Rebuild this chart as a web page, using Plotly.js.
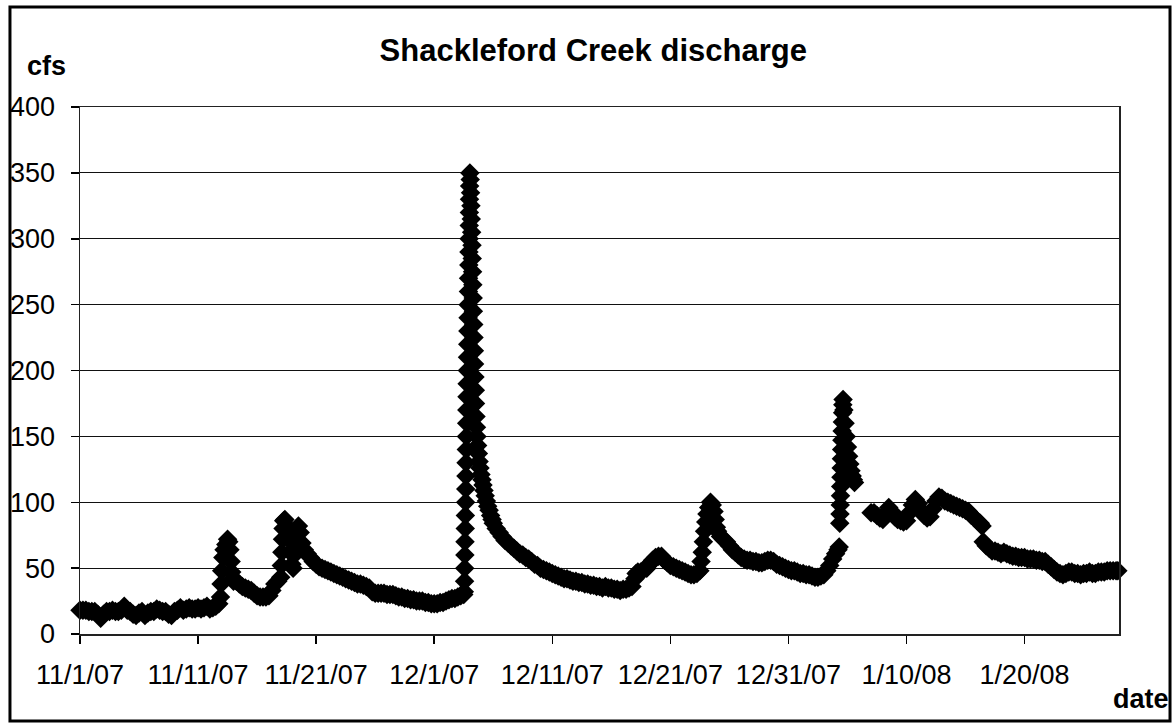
<!DOCTYPE html>
<html>
<head>
<meta charset="utf-8">
<script src="https://cdn.plot.ly/plotly-3.0.1.min.js"></script>
<style>
  html, body { margin: 0; padding: 0; background: #ffffff; }
  #chart { width: 1175px; height: 725px; }
</style>
</head>
<body>
<div id="chart"></div>
<script>
// Start of record: 11/1/07 00:00. Each pair is [days since start, discharge in cfs]
const startDate = Date.UTC(2007, 10, 1);

const baseflowNov = [[0,18],[0.25,18],[0.5,18],[0.75,17],[1,17],[1.25,17],[1.5,15],[1.75,12],[2,15],[2.25,17],[2.5,17],[2.75,18],[3,17],[3.25,17],[3.5,18],[3.75,21],[4,18],[4.25,17],[4.5,15],[4.75,14],[5,16],[5.25,17],[5.5,14],[5.75,16],[6,17],[6.25,17],[6.5,19],[6.75,18],[7,17],[7.25,17],[7.5,15],[7.75,14],[8,17],[8.25,18],[8.5,20],[8.75,18],[9,19],[9.25,20],[9.5,19],[9.75,19],[10,20],[10.25,19],[10.5,20],[10.75,21],[11,19],[11.25,20],[11.5,21],[11.75,23]];

const stormsMidNov = [[11.9,28],[11.95,38],[12,48],[12.1,58],[12.2,64],[12.35,68],[12.5,72],[12.6,70],[12.7,64],[12.8,55],[12.85,47],[12.9,42],[13,40],[13.25,40],[13.5,38],[13.75,36],[14,35],[14.25,34],[14.5,33],[14.75,31],[15,29],[15.25,28],[15.5,28],[15.75,28],[16,29],[16.25,33],[16.5,38],[16.75,40],[17,43],[17.05,52],[17.1,62],[17.15,72],[17.2,80],[17.25,86],[17.35,87],[17.5,82],[17.65,72],[17.8,62],[17.95,53],[18.05,50],[18.15,60],[18.25,70],[18.35,78],[18.5,82],[18.65,77],[18.8,69],[19,64],[19.25,61],[19.5,58],[19.75,55],[20,53],[20.25,51],[20.5,50],[20.75,49],[21,48],[21.25,47],[21.5,46],[21.75,45],[22,44],[22.25,43],[22.5,42],[22.75,41],[23,40],[23.25,39],[23.5,38],[23.75,38],[24,37],[24.25,36],[24.5,35],[24.75,32],[25,31],[25.25,31],[25.5,31],[25.75,31],[26,30],[26.25,30],[26.5,30],[26.75,29],[27,28],[27.25,28],[27.5,27],[27.75,27],[28,26],[28.25,26],[28.5,25],[28.75,25],[29,25],[29.25,24],[29.5,24],[29.75,23],[30,23],[30.25,23],[30.5,24],[30.75,24],[31,25],[31.25,26],[31.5,27],[31.75,27],[32,28],[32.25,29],[32.5,30]];

const peakDec3 = [[32.55,32],[32.57,40],[32.58,50],[32.6,60],[32.61,70],[32.63,80],[32.64,90],[32.66,100],[32.67,110],[32.69,120],[32.7,130],[32.72,140],[32.73,150],[32.75,160],[32.76,170],[32.78,180],[32.79,190],[32.81,200],[32.82,210],[32.84,220],[32.85,230],[32.87,240],[32.88,250],[32.9,260],[32.91,270],[32.93,280],[32.94,290],[32.96,300],[32.97,310],[32.98,320],[32.99,330],[33,340],[33.02,350],[33.05,345],[33.08,335],[33.11,325],[33.14,315],[33.17,305],[33.2,295],[33.22,285],[33.25,275],[33.27,265],[33.3,255],[33.32,245],[33.35,235],[33.37,225],[33.4,215],[33.42,205],[33.45,195],[33.48,185],[33.5,175],[33.54,165],[33.58,157],[33.62,150],[33.68,143],[33.74,137],[33.8,131],[33.88,126],[33.96,121],[34.05,117],[34.13,113],[34.22,109],[34.32,105],[34.42,101],[34.53,97],[34.65,94],[34.78,90],[34.9,87],[35,84],[35.25,80],[35.5,77],[35.75,74],[36,71],[36.25,69],[36.5,67],[36.75,65],[37,63],[37.25,61],[37.5,60],[37.75,58],[38,57],[38.25,55],[38.5,53],[38.75,52],[39,50],[39.25,49],[39.5,48],[39.75,47],[40,46],[40.25,45],[40.5,44],[40.75,43],[41,42],[41.25,42],[41.5,41],[41.75,40],[42,40],[42.25,39],[42.5,39],[42.75,38],[43,38],[43.25,37],[43.5,37],[43.75,36],[44,36],[44.25,35],[44.5,36],[44.75,35],[45,35],[45.25,34],[45.5,34],[45.75,33],[46,34],[46.25,34],[46.5,35]];

const stormsLateDec = [[46.75,36],[47,42],[47.1,46],[47.25,47],[47.5,47],[47.75,49],[48,50],[48.25,53],[48.5,56],[48.75,58],[49,59],[49.25,59],[49.5,56],[49.75,54],[50,52],[50.25,51],[50.5,50],[50.75,49],[51,48],[51.25,47],[51.5,46],[51.75,45],[52,45],[52.25,46],[52.5,48],[52.6,55],[52.7,62],[52.8,70],[52.9,78],[53,85],[53.1,91],[53.25,96],[53.4,100],[53.55,98],[53.7,93],[53.8,87],[53.9,81],[54,78],[54.25,74],[54.5,72],[54.75,70],[55,67],[55.25,64],[55.5,62],[55.75,60],[56,58],[56.25,57],[56.5,56],[56.75,56],[57,55],[57.25,55],[57.5,54],[57.75,54],[58,55],[58.25,56],[58.5,56],[58.75,55],[59,53],[59.25,52],[59.5,51],[59.75,50],[60,49],[60.25,48],[60.5,48],[60.75,47],[61,46],[61.25,46],[61.5,45],[61.75,45],[62,44],[62.25,43],[62.5,43],[62.75,44],[63,45],[63.25,48],[63.5,52],[63.75,57],[64,61],[64.2,64],[64.3,66]];

const peakJan4 = [[64.35,84],[64.37,91],[64.39,98],[64.41,105],[64.43,112],[64.45,119],[64.47,126],[64.49,133],[64.51,140],[64.53,147],[64.55,154],[64.57,161],[64.59,168],[64.61,174],[64.63,178],[64.7,170],[64.8,160],[64.9,150],[65,142],[65.1,135],[65.2,129],[65.3,124],[65.4,120],[65.5,117],[65.6,115]];

const flowMidJan = [[67,92],[67.25,92],[67.5,90],[67.75,88],[68,87],[68.25,91],[68.5,96],[68.75,93],[69,89],[69.25,87],[69.5,86],[69.75,85],[70,86],[70.25,92],[70.5,98],[70.75,102],[71,99],[71.25,94],[71.5,90],[71.75,88],[72,89],[72.25,95],[72.5,101],[72.75,104],[73,103],[73.25,101],[73.5,100],[73.75,99],[74,98],[74.25,97],[74.5,96],[74.75,95],[75,94],[75.25,93],[75.5,90],[75.75,88],[76,86],[76.25,84],[76.4,82]];

const flowLateJan = [[76.5,70],[76.75,67],[77,65],[77.25,63],[77.5,63],[77.75,62],[78,61],[78.25,62],[78.5,61],[78.75,60],[79,59],[79.25,59],[79.5,58],[79.75,58],[80,58],[80.25,57],[80.5,57],[80.75,57],[81,56],[81.25,56],[81.5,55],[81.75,55],[82,53],[82.25,51],[82.5,49],[82.75,47],[83,46],[83.25,45],[83.5,46],[83.75,47],[84,47],[84.25,46],[84.5,46],[84.75,45],[85,46],[85.25,46],[85.5,47],[85.75,46],[86,46],[86.25,47],[86.5,47],[86.75,47],[87,48],[87.25,48],[87.5,48],[87.75,48],[87.9,48]];

const tickDates = ['2007-11-01','2007-11-11','2007-11-21','2007-12-01','2007-12-11','2007-12-21','2007-12-31','2008-01-10','2008-01-20'];
const tickLabels = ['11/1/07','11/11/07','11/21/07','12/1/07','12/11/07','12/21/07','12/31/07','1/10/08','1/20/08'];
const yTicks = [0,50,100,150,200,250,300,350,400];

const allPoints = [].concat(baseflowNov, stormsMidNov, peakDec3, stormsLateDec, peakJan4, flowMidJan, flowLateJan);
function toDate(d) {
  return new Date(startDate + d * 86400000).toISOString().slice(0, 19).replace('T', ' ');
}
const xs = allPoints.map(p => toDate(p[0]));
const ys = allPoints.map(p => p[1]);

const FONT = '"Liberation Sans", Arial, sans-serif';

const trace = {
  type: 'scatter',
  mode: 'markers',
  x: xs,
  y: ys,
  marker: { symbol: 'diamond', size: 15, color: '#000000', line: { width: 0 } },
  cliponaxis: false,
  hoverinfo: 'x+y'
};

const layout = {
  width: 1175,
  height: 725,
  margin: { l: 80, r: 56, t: 107, b: 91 },
  paper_bgcolor: '#ffffff',
  plot_bgcolor: '#ffffff',
  showlegend: false,
  font: { family: FONT, color: '#000000' },
  title: {
    text: '<b>Shackleford Creek discharge</b>',
    font: { family: FONT, size: 31, color: '#000000' },
    x: 0.494, xref: 'paper', xanchor: 'center',
    y: 0.931, yref: 'container', yanchor: 'middle'
  },
  xaxis: {
    type: 'date',
    range: ['2007-11-01', '2008-01-28'],
    tickmode: 'array',
    tickvals: tickDates,
    ticktext: tickLabels,
    ticks: 'outside',
    ticklen: 8,
    tickwidth: 1.5,
    tickcolor: '#000000',
    showline: true,
    linecolor: '#222222',
    linewidth: 1.5,
    mirror: true,
    showgrid: false,
    zeroline: false,
    ticklabelstandoff: 8,
    tickfont: { family: FONT, size: 27, color: '#000000' }
  },
  yaxis: {
    range: [0, 400],
    tickmode: 'array',
    tickvals: yTicks,
    ticktext: yTicks.map(String),
    ticks: 'outside',
    ticklen: 8,
    tickwidth: 1.5,
    tickcolor: '#000000',
    showline: true,
    linecolor: '#222222',
    linewidth: 1.5,
    mirror: true,
    showgrid: true,
    gridcolor: '#111111',
    gridwidth: 1,
    zeroline: false,
    ticklabelstandoff: 10,
    tickfont: { family: FONT, size: 27, color: '#000000' }
  },
  annotations: [
    { text: '<b>cfs</b>', xref: 'paper', yref: 'paper', x: -0.032, y: 1.078,
      xanchor: 'center', yanchor: 'middle', showarrow: false,
      font: { family: FONT, size: 27, color: '#000000' } },
    { text: '<b>date</b>', xref: 'paper', yref: 'paper', x: 1.021, y: -0.123,
      xanchor: 'center', yanchor: 'middle', showarrow: false,
      font: { family: FONT, size: 27, color: '#000000' } }
  ],
  shapes: [
    { type: 'rect', xref: 'paper', yref: 'paper',
      x0: -0.0674, x1: 1.0491, y0: -0.165, y1: 1.1898,
      line: { color: '#000000', width: 3 }, fillcolor: 'rgba(0,0,0,0)', layer: 'above' }
  ]
};

Plotly.newPlot('chart', [trace], layout, { displayModeBar: false, staticPlot: true });
</script>
</body>
</html>
